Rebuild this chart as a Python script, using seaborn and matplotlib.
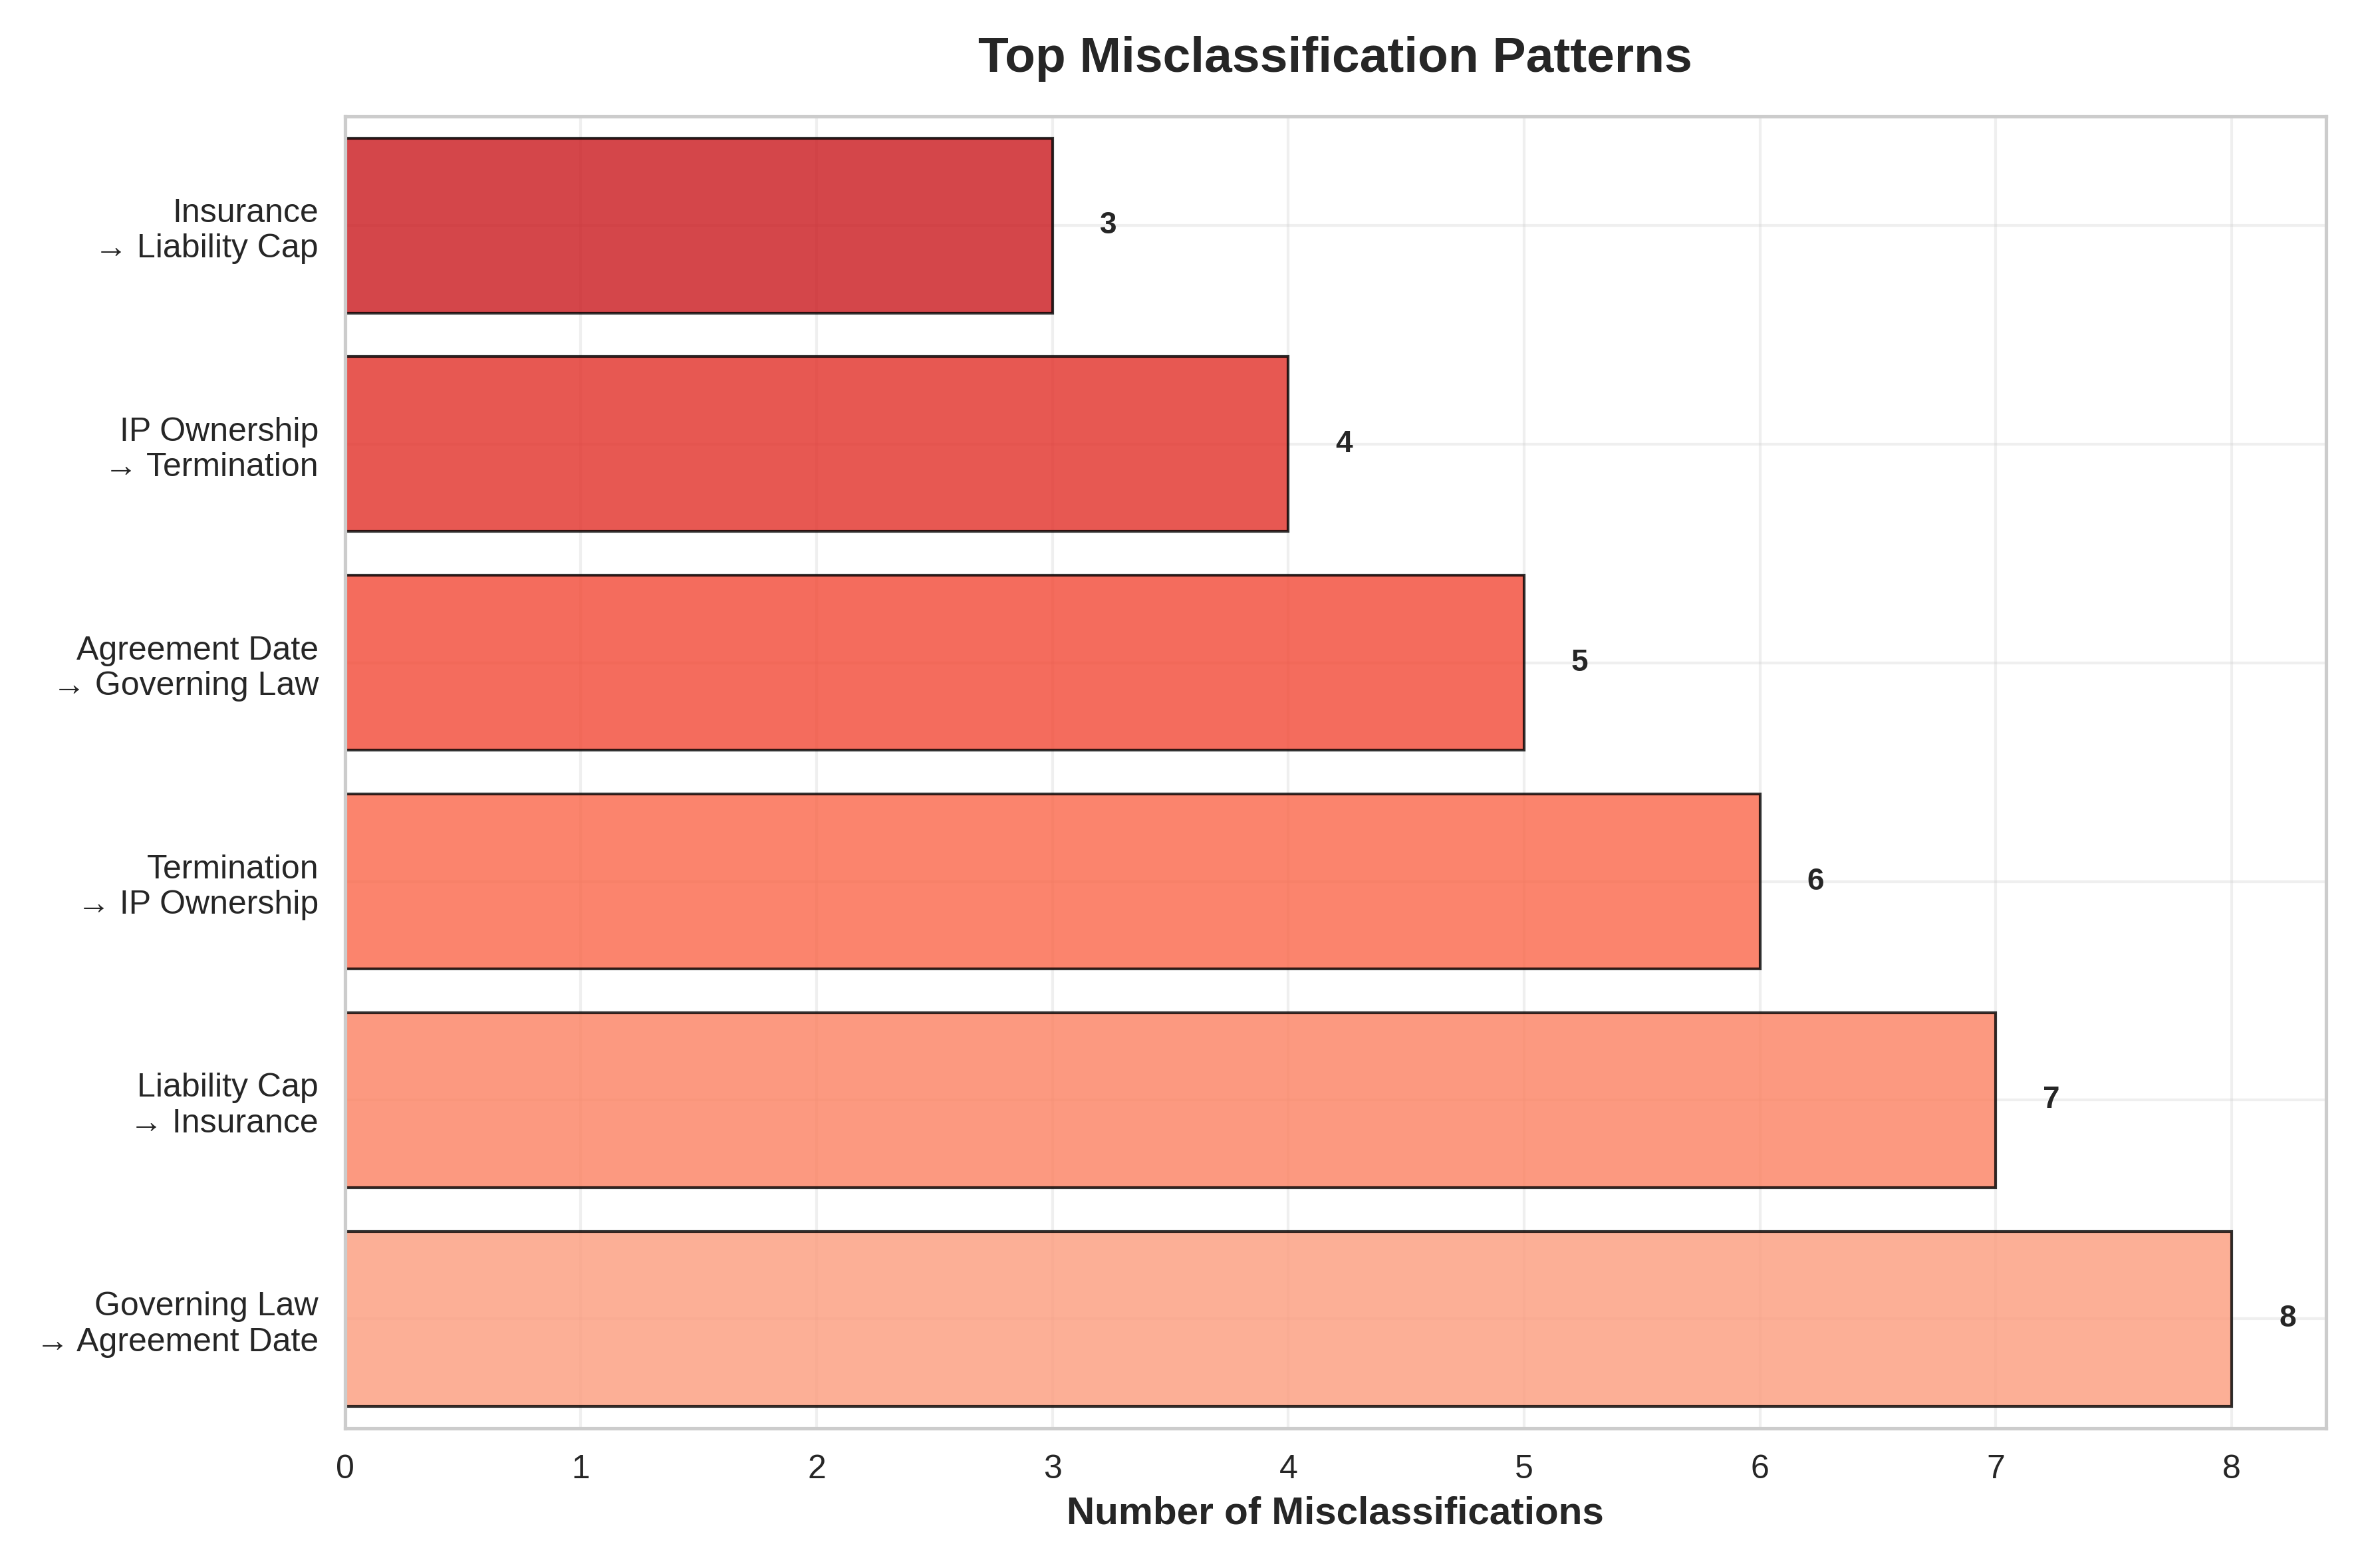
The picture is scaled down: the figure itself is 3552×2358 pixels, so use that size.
import numpy as np
import pandas as pd
import seaborn as sns
from matplotlib import pyplot as plt

# Misclassification patterns, top of chart first
patterns = [
    "Insurance\n→ Liability Cap",
    "IP Ownership\n→ Termination",
    "Agreement Date\n→ Governing Law",
    "Termination\n→ IP Ownership",
    "Liability Cap\n→ Insurance",
    "Governing Law\n→ Agreement Date",
]
counts = [3, 4, 5, 6, 7, 8]

sns.set_theme(style="whitegrid")
plt.rcParams["font.family"] = ["Arial", "Liberation Sans", "DejaVu Sans"]

df = pd.DataFrame({"pattern": patterns, "count": counts})
colors = plt.cm.Reds(np.linspace(0.75, 0.35, len(patterns)))

fig, ax = plt.subplots(figsize=(11.84, 7.86), dpi=300)
sns.barplot(data=df, x="count", y="pattern", hue="pattern", palette=list(colors),
            orient="h", width=0.8, edgecolor="black", linewidth=1, alpha=0.8,
            saturation=1, legend=False, ax=ax)

for i, v in enumerate(counts):
    ax.text(v + 0.2, i, str(v), va="center", ha="left", fontsize=11, fontweight="bold")

ax.set_xlim(0, 8.4)
ax.set_ylabel("")
ax.set_xlabel("Number of Misclassifications", fontsize=14, fontweight="bold")
ax.set_title("Top Misclassification Patterns", fontsize=18, fontweight="bold", pad=16)
ax.tick_params(axis="both", labelsize=12)
ax.grid(True, alpha=0.3)
for s in ax.spines.values():
    s.set_color("#cccccc")

plt.tight_layout()
plt.savefig("out.png", dpi=300)
plt.close()
